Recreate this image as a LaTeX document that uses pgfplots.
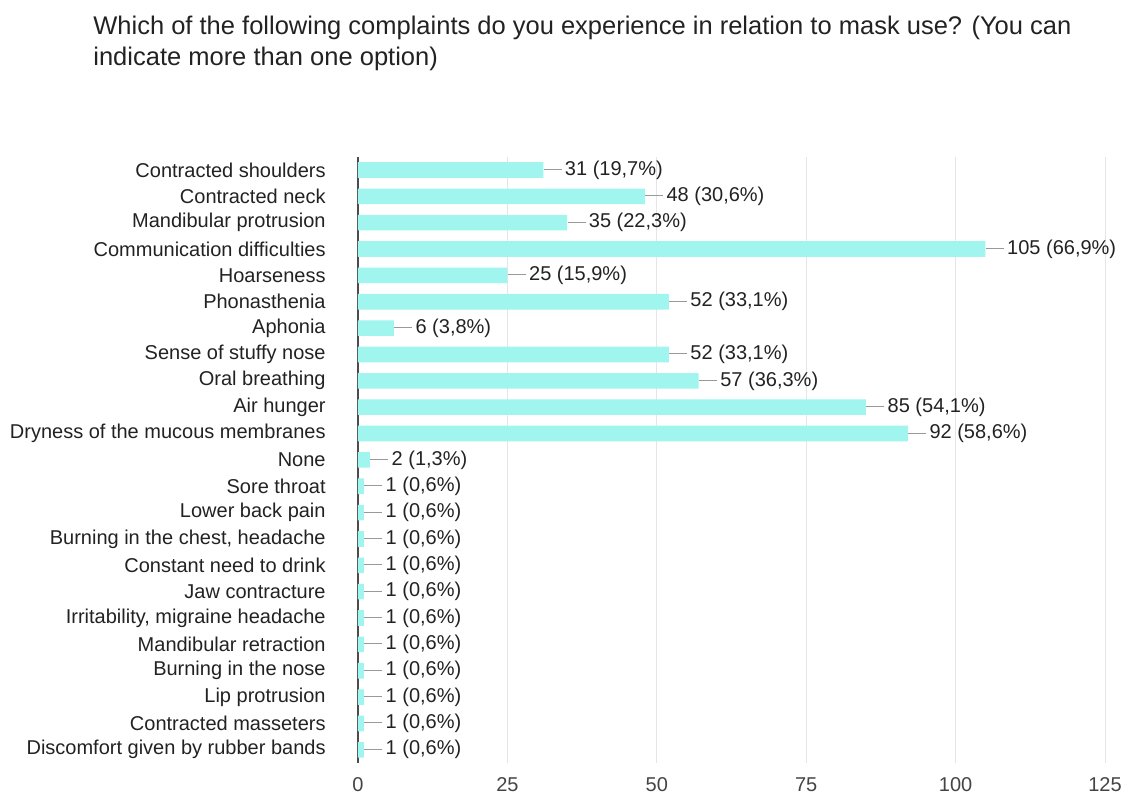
\documentclass[border=0pt]{standalone}
\usepackage{pgfplots}
\pgfplotsset{compat=1.18}
\usepackage{fontspec}
\setmainfont{Liberation Sans}
\definecolor{barc}{HTML}{A0F5EE}
\definecolor{txt}{HTML}{222222}
\definecolor{tick}{HTML}{444444}
\begin{document}
\begin{tikzpicture}
\path (0,0) rectangle (562.5pt,398pt);
\node[anchor=base west, inner sep=0pt, font=\fontsize{12.75pt}{15pt}\selectfont, text=txt] at (46.5pt,380.5pt) {Which of the following complaints do you experience in relation to mask use? (You can};
\node[anchor=base west, inner sep=0pt, font=\fontsize{12.75pt}{15pt}\selectfont, text=txt] at (46.5pt,365pt) {indicate more than one option)};
\begin{axis}[
  at={(365.75pt,168.05pt)}, anchor=center,
  scale only axis, width=373.5pt, height=303.1pt,
  xmin=0, xmax=125, ymin=-0.5, ymax=22.5,
  y dir=reverse,
  xbar, bar width=7.8pt,
  axis lines=left, axis line style={-},
  x axis line style={draw=none},
  y axis line style={draw=black!70, line width=1pt},
  major tick length=0pt,
  xtick={0,25,50,75,100,125},
  xmajorgrids, grid style={draw=black!10, line width=0.5pt},
  ytick={0,...,22},
  yticklabels={Contracted shoulders, Contracted neck, Mandibular protrusion, Communication difficulties, Hoarseness, Phonasthenia, Aphonia, Sense of stuffy nose, Oral breathing, Air hunger, Dryness of the mucous membranes, None, Sore throat, Lower back pain, {Burning in the chest, headache}, Constant need to drink, Jaw contracture, {Irritability, migraine headache}, Mandibular retraction, Burning in the nose, Lip protrusion, Contracted masseters, Discomfort given by rubber bands},
  yticklabel style={anchor=east, inner sep=0pt, xshift=-16pt, font=\fontsize{10pt}{12pt}\selectfont, text=txt},
  xticklabel style={anchor=center, inner sep=0pt, yshift=-11pt, font=\fontsize{10pt}{12pt}\selectfont, text=tick},
  /pgf/number format/assume math mode=true,
  point meta=explicit symbolic,
  nodes near coords={\textcolor{black!40}{\rule[2.6pt]{9pt}{0.5pt}}\,\pgfplotspointmeta},
  every node near coord/.append style={anchor=west, inner sep=0pt, font=\fontsize{10pt}{12pt}\selectfont, text=txt},
  clip=false,
]
\addplot[fill=barc, draw=none] coordinates {
(31,0) [31 (19,7\%)]
(48,1) [48 (30,6\%)]
(35,2) [35 (22,3\%)]
(105,3) [105 (66,9\%)]
(25,4) [25 (15,9\%)]
(52,5) [52 (33,1\%)]
(6,6) [6 (3,8\%)]
(52,7) [52 (33,1\%)]
(57,8) [57 (36,3\%)]
(85,9) [85 (54,1\%)]
(92,10) [92 (58,6\%)]
(2,11) [2 (1,3\%)]
(1,12) [1 (0,6\%)]
(1,13) [1 (0,6\%)]
(1,14) [1 (0,6\%)]
(1,15) [1 (0,6\%)]
(1,16) [1 (0,6\%)]
(1,17) [1 (0,6\%)]
(1,18) [1 (0,6\%)]
(1,19) [1 (0,6\%)]
(1,20) [1 (0,6\%)]
(1,21) [1 (0,6\%)]
(1,22) [1 (0,6\%)]
};
\end{axis}
\pgfresetboundingbox
\path (0,0) rectangle (562.5pt,398pt);
\end{tikzpicture}
\end{document}
